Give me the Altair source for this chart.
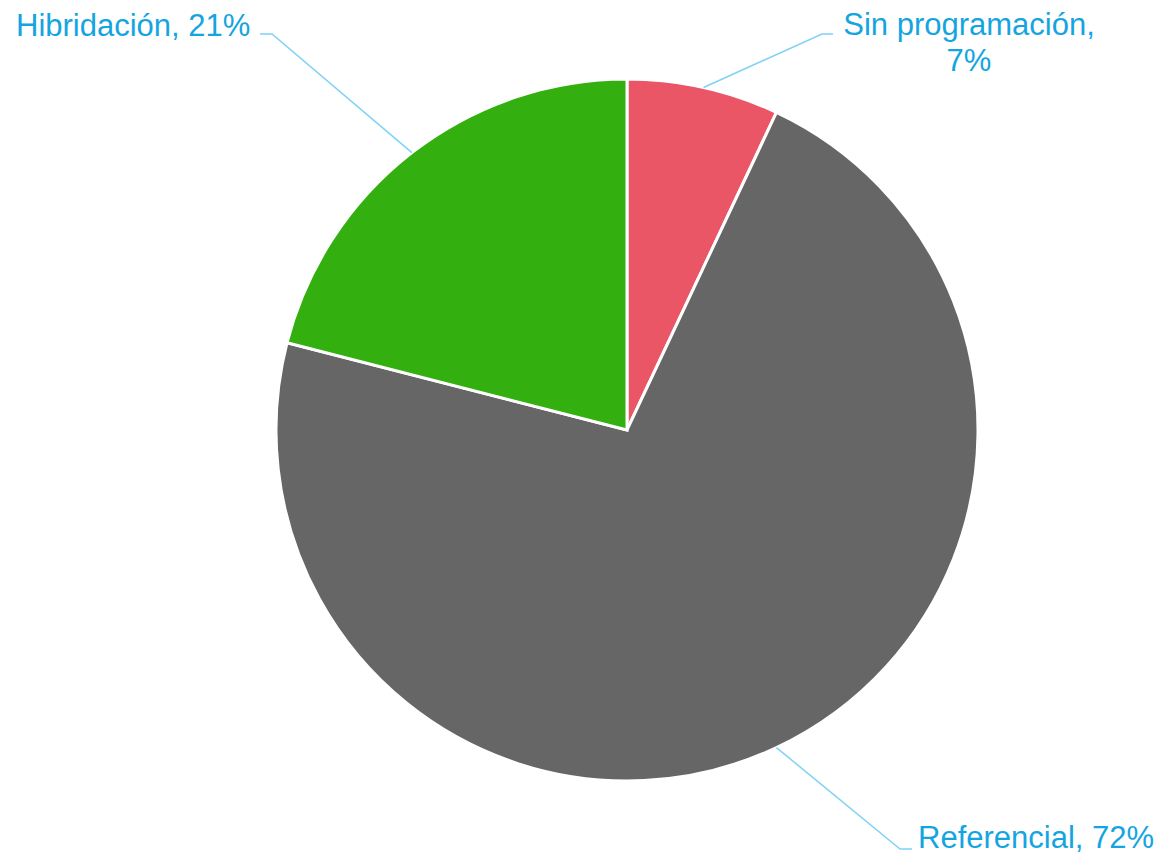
import altair as alt
import pandas as pd
import numpy as np

# ---- data ----
categories = ["Sin programación", "Referencial", "Hibridación"]
values = [7, 72, 21]
colors = ["#EA5666", "#666666", "#33AF0F"]
labels = ["Sin programación,\n7%", "Referencial, 72%", "Hibridación, 21%"]

# ---- layout (plot-area pixels; page offset 8px) ----
W, H = 1152, 849
CX, CY, R = 619, 422, 351
# label anchor (x, y baseline), align, leader elbow and end
label_pos = {
    "Sin programación": dict(x=961, y=27, align="center", elbow=(814, 26), end=(825, 26)),
    "Referencial": dict(x=910, y=840, align="left", elbow=(892, 841), end=(904, 841)),
    "Hibridación": dict(x=8, y=28, align="left", elbow=(264, 26), end=(252, 26)),
}

df = pd.DataFrame({"cat": categories, "value": values, "order": range(len(categories)), "label": labels})

# leader lines: pie edge point derived from slice mid-angle
total = sum(values)
cum = np.cumsum([0] + values)
rows = []
for i, c in enumerate(categories):
    mid = (cum[i] + cum[i + 1]) / 2 / total * 2 * np.pi
    ex, ey = CX + R * np.sin(mid), CY - R * np.cos(mid)
    lp = label_pos[c]
    pts = [(ex, ey), lp["elbow"], lp["end"]]
    for k, (px, py) in enumerate(pts):
        rows.append({"cat": c, "k": k, "px": px, "py": py})
lines_df = pd.DataFrame(rows)

text_rows = [{"cat": c, "label": labels[i], "px": label_pos[c]["x"], "py": label_pos[c]["y"]} for i, c in enumerate(categories)]
text_df = pd.DataFrame(text_rows)

xs = alt.Scale(domain=[0, W])
ys = alt.Scale(domain=[H, 0])

pie = alt.Chart(df).mark_arc(outerRadius=R, stroke="white", strokeWidth=3).encode(
    theta=alt.Theta("value:Q", stack=True),
    color=alt.Color("cat:N", scale=alt.Scale(domain=categories, range=colors), legend=None),
    order=alt.Order("order:Q"),
    x=alt.value(CX),
    y=alt.value(CY),
)

leaders = alt.Chart(lines_df).mark_line(color="#7FD2F6", strokeWidth=1.5).encode(
    x=alt.X("px:Q", scale=xs, axis=None),
    y=alt.Y("py:Q", scale=ys, axis=None),
    detail="cat:N",
    order="k:Q",
)

FONT = "Liberation Sans"
TXT = "#14A5E0"
texts = []
for c in categories:
    lp = label_pos[c]
    t = alt.Chart(text_df[text_df.cat == c]).mark_text(
        font=FONT, fontSize=31, color=TXT, align=lp["align"], baseline="alphabetic",
        lineBreak="\n", lineHeight=36,
    ).encode(
        x=alt.X("px:Q", scale=xs, axis=None),
        y=alt.Y("py:Q", scale=ys, axis=None),
        text="label:N",
    )
    texts.append(t)

chart = alt.layer(pie, leaders, *texts).properties(
    width=W, height=H, padding=0, autosize=alt.AutoSizeParams(type="none")
).configure_view(stroke=None)

chart.save("out.html", embed_options={"renderer": "svg", "actions": False})
